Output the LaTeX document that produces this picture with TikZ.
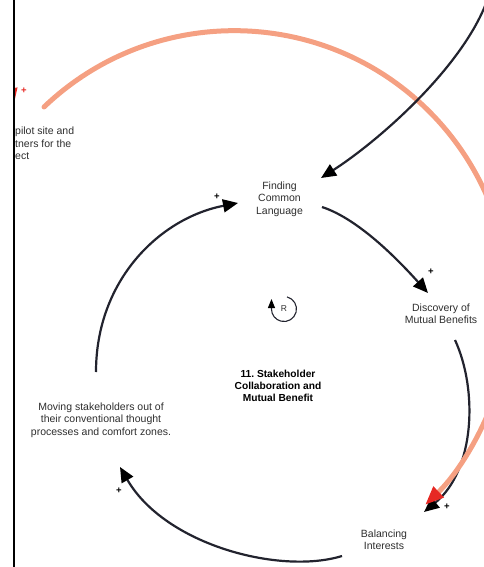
\documentclass[tikz,border=0pt]{standalone}
\usepackage{fontspec}
\setmainfont{Liberation Sans}
\usetikzlibrary{arrows.meta}
\definecolor{ink}{HTML}{2E2E2E}
\definecolor{wire}{HTML}{22232E}
\definecolor{salmon}{RGB}{245,160,130}
\definecolor{redtip}{RGB}{230,40,35}

\tikzset{
  lbl/.style={align=center, font=\fontsize{10.5}{12.4}\selectfont, text=ink, inner sep=0pt},
  ttl/.style={align=center, font=\fontsize{10.2}{12.2}\selectfont\bfseries, text=black, inner sep=0pt},
  link/.style={draw=wire, line width=2.2pt, -{Triangle[length=15pt,width=13pt,color=black]}},
  pol/.style={font=\fontsize{9.5}{9.5}\selectfont\bfseries, text=black, inner sep=0pt},
  salmonline/.style={draw=salmon, line width=5pt, line cap=round},
  redhead/.style={-{Triangle[length=19pt,width=14pt,color=redtip]}},
}
\frenchspacing

\begin{document}
\begin{tikzpicture}[x=1pt,y=-1pt]
\useasboundingbox (0,0) rectangle (484,567);
\clip (0,0) rectangle (484,567);

% variables of the loop
\node[lbl] (finding)   at (279.5,199) {Finding\\Common\\Language};
\node[lbl] (discovery) at (441,314)   {Discovery of\\Mutual Benefits};
\node[lbl] (balancing) at (384,539.5) {Balancing\\Interests};
\node[lbl] (moving)    at (101,420)   {Moving stakeholders out of\\their conventional thought\\processes and comfort zones.};
\node[ttl] (title)     at (278,386)   {11. Stakeholder\\Collaboration and\\Mutual Benefit};
\node[lbl, align=left, anchor=west] (pilot) at (15,143.4) {pilot site and\\tners for the\\ect};
\node[font=\fontsize{8.5}{8.5}\selectfont, text=ink, inner sep=0pt] (loopR) at (284,309) {R};

% outer link from the pilot site
\coordinate (arcstart) at ([shift={(29,-36.4)}]pilot.west);
\draw[salmonline] (arcstart) arc[start angle=-133.7, end angle=20, radius=275.5] coordinate (arcmid);

% incoming link into the pilot site (cut at the frame)
\coordinate (redfrom) at (2.2,48.6);
\coordinate (redto) at (13.4,107.5);
\draw[salmonline, line cap=butt, redhead] (redfrom) -- (redto);

% link entering from the upper right
\coordinate (ext) at (488,-2);
\draw[link] (ext) .. controls +(-23,67) and +(59,-38) .. ([shift={(41.5,-21)}]finding.center);

% reinforcing loop
\draw[link] ([shift={(-5,-48)}]moving.center) .. controls +(0,-92) and +(-78,15) .. ([shift={(-41.5,4)}]finding.center);
\draw[link] ([shift={(42.5,8)}]finding.center) .. controls +(38,12.4) and +(-26.8,-29.7) .. ([shift={(-13,-21)}]discovery.center);
\draw[link] ([shift={(14,26)}]discovery.center) .. controls +(23,50) and +(51,-42) .. ([shift={(40,-27.5)}]balancing.center);
\draw[link] ([shift={(-42,16.5)}]balancing.center) .. controls +(-62,19) and +(45,78) .. ([shift={(19,47)}]moving.center);

% end of the outer link, over the loop
\draw[salmonline, line cap=butt, redhead] (arcmid) arc[start angle=20, end angle=46.2, radius=275.5];

% polarities
\node[pol] (p1) at (217,197) {+};
\node[pol] (p2) at (431,272) {+};
\node[pol] (p3) at (447,507) {+};
\node[pol] (p4) at (119,491) {+};
\node[pol, text=redtip] (p5) at (24,91) {+};

% loop marker
\draw[draw=wire, line width=1.1pt, -{Triangle[length=9pt,width=7pt,color=black]}]
  ([shift={(3,-12.1)}]loopR.center) arc[start angle=-76, end angle=180, radius=12.5] -- ++(0,-10);

% frame edge
\fill[white] (0,0) rectangle (12.7,567);
\fill[black] (12.7,0) rectangle (15,567);
\end{tikzpicture}
\end{document}
